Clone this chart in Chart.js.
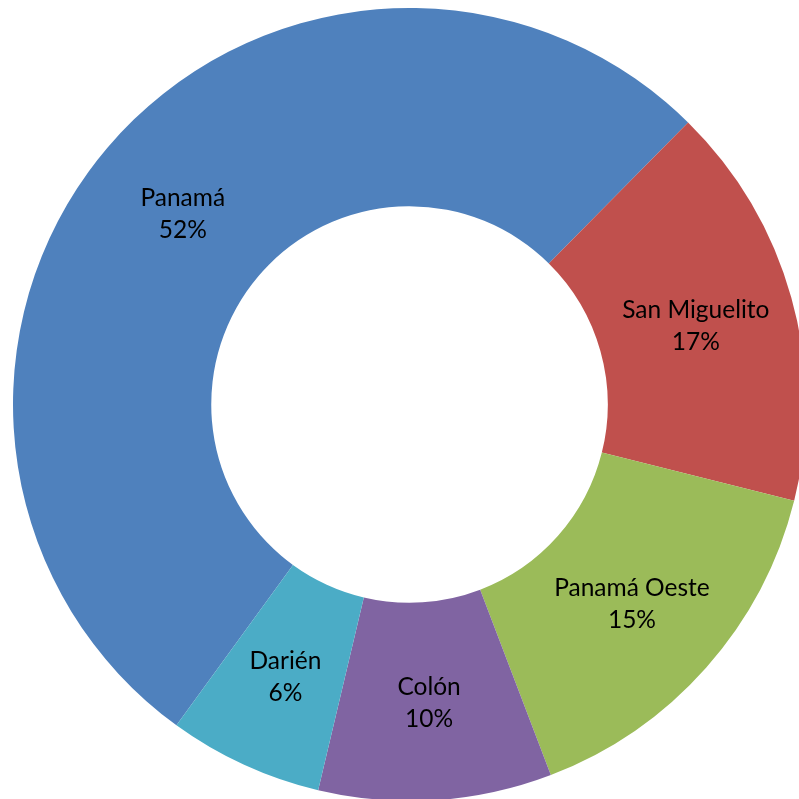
<!DOCTYPE html>
<html>
<head>
<meta charset="utf-8">
<script src="https://cdn.jsdelivr.net/npm/chart.js@4"></script>
<style>
  html, body { margin: 0; padding: 0; background: #fff; overflow: hidden; }
  #wrap { position: absolute; left: 13px; top: 8px; width: 793px; height: 793px; }
</style>
</head>
<body>
<div id="wrap"><canvas id="chart"></canvas></div>
<script>
// data
const labels = ["Panamá", "San Miguelito", "Panamá Oeste", "Colón", "Darién"];
const values = [52.4, 16.5, 15.3, 9.5, 6.3];
const colors = ["#4F81BD", "#C0504D", "#9BBB59", "#8064A2", "#4BACC6"];

const total = values.reduce((a, b) => a + b, 0);

// draw "name / pct%" in the middle of each slice
const sliceLabels = {
  id: "sliceLabels",
  afterDatasetsDraw(chart) {
    const ctx = chart.ctx;
    const meta = chart.getDatasetMeta(0);
    ctx.save();
    ctx.font = "24.5px Lato, 'Liberation Sans', sans-serif";
    ctx.fillStyle = "#000";
    ctx.textAlign = "center";
    ctx.textBaseline = "middle";
    meta.data.forEach((arc, i) => {
      const p = arc.getCenterPoint();
      const pct = Math.round(values[i] / total * 100) + "%";
      ctx.fillText(labels[i], p.x, p.y - 14);
      ctx.fillText(pct, p.x, p.y + 18);
    });
    ctx.restore();
  }
};

new Chart(document.getElementById("chart").getContext("2d"), {
  type: "doughnut",
  data: {
    labels: labels,
    datasets: [{ data: values, backgroundColor: colors, borderWidth: 0 }]
  },
  options: {
    responsive: true,
    maintainAspectRatio: false,
    animation: false,
    rotation: 216,
    cutout: "50%",
    layout: { padding: 0 },
    plugins: { legend: { display: false }, tooltip: { enabled: false } }
  },
  plugins: [sliceLabels]
});
</script>
</body>
</html>
